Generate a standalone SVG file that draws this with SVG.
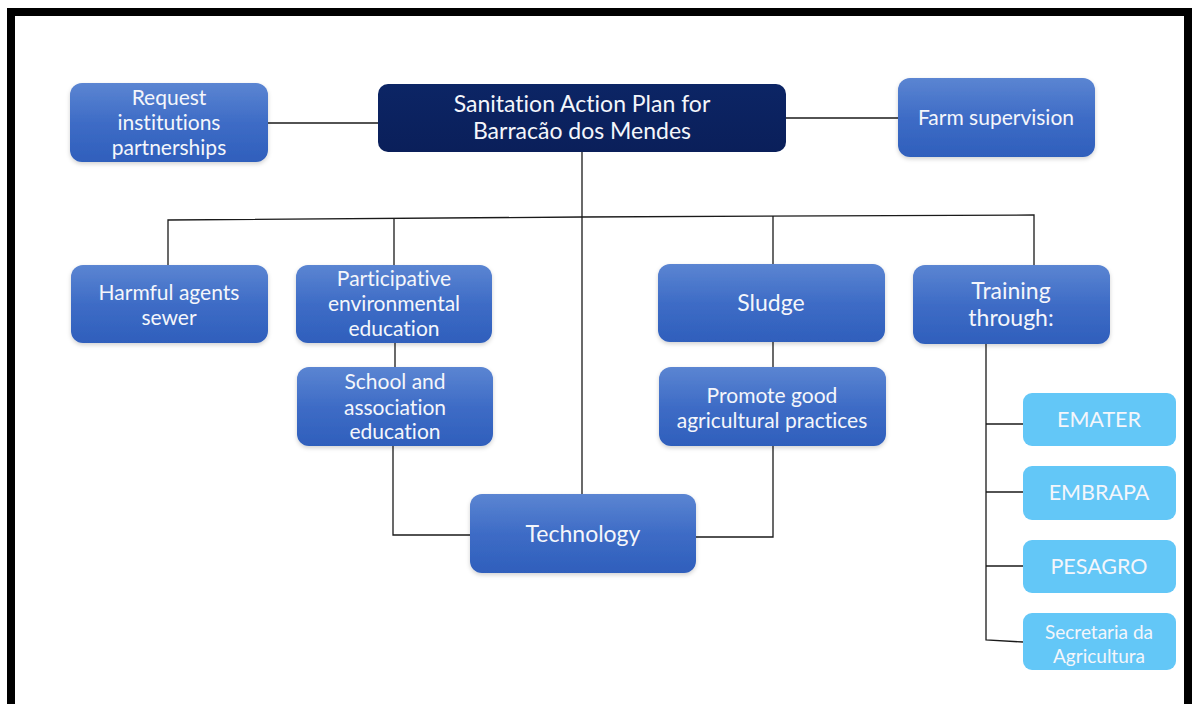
<svg xmlns="http://www.w3.org/2000/svg" width="1192" height="704" viewBox="0 0 1192 704">
<defs>
<linearGradient id="gBlue" x1="0" y1="0" x2="0" y2="1">
<stop offset="0" stop-color="#5B85D2"/>
<stop offset="0.5" stop-color="#3E6CC6"/>
<stop offset="1" stop-color="#2F5FBC"/>
</linearGradient>
<linearGradient id="gNavy" x1="0" y1="0" x2="0" y2="1">
<stop offset="0" stop-color="#0C2565"/>
<stop offset="1" stop-color="#0A1F5A"/>
</linearGradient>
<filter id="sh" x="-10%" y="-10%" width="120%" height="130%">
<feDropShadow dx="0" dy="2" stdDeviation="2" flood-color="#000" flood-opacity="0.18"/>
</filter>
</defs>
<style>
.b{fill:url(#gBlue);filter:url(#sh)}
.n{fill:url(#gNavy)}
.l{fill:#63C7F7}
.t{font-family:Lato,"Open Sans","Liberation Sans",sans-serif;fill:#F4F6FB;text-anchor:middle;font-size:21px;font-variant-ligatures:none}
.big{font-size:23px}
.mid{font-size:21.5px}
.sm{font-size:19px}
.c{fill:none;stroke:#1a1a1a;stroke-width:1.3}
</style>
<rect x="0" y="0" width="1192" height="704" fill="#fff"/>
<path d="M11,712 V12 H1188 V712" fill="none" stroke="#000" stroke-width="8"/>

<g id="connectors">
<line class="c" x1="268" y1="123" x2="378" y2="123"/>
<line class="c" x1="786" y1="118" x2="898" y2="118"/>
<line class="c" x1="582" y1="152" x2="582" y2="494"/>
<polyline class="c" points="168,265 168,220 582,217 1034,215 1034,265"/>
<line class="c" x1="394" y1="219" x2="394" y2="265"/>
<line class="c" x1="773" y1="216" x2="773" y2="264"/>
<line class="c" x1="395" y1="343" x2="395" y2="367"/>
<polyline class="c" points="393,446 393,535 470,535"/>
<line class="c" x1="773" y1="342" x2="773" y2="367"/>
<polyline class="c" points="773,446 773,537 696,537"/>
<polyline class="c" points="986,344 986,640 1023,642"/>
<line class="c" x1="986" y1="424" x2="1023" y2="424"/>
<line class="c" x1="986" y1="492" x2="1023" y2="492"/>
<line class="c" x1="986" y1="566" x2="1023" y2="566"/>
</g>

<g id="request">
<rect class="b" x="70" y="83" width="198" height="79" rx="12"/>
<text class="t" x="169" y="105">Request</text>
<text class="t" x="169" y="130">institutions</text>
<text class="t" x="169" y="155">partnerships</text>
</g>
<g id="main">
<rect class="n" x="378" y="84" width="408" height="68" rx="10"/>
<text class="t big" x="582" y="112">Sanitation Action Plan for</text>
<text class="t big" x="582" y="139">Barracão dos Mendes</text>
</g>
<g id="farm">
<rect class="b" x="898" y="78" width="197" height="79" rx="12"/>
<text class="t" x="996" y="125">Farm supervision</text>
</g>
<g id="harmful">
<rect class="b" x="71" y="265" width="197" height="78" rx="12"/>
<text class="t" x="169" y="300">Harmful agents</text>
<text class="t" x="169" y="325">sewer</text>
</g>
<g id="participative">
<rect class="b" x="296" y="265" width="196" height="78" rx="12"/>
<text class="t" x="394" y="286">Participative</text>
<text class="t" x="394" y="311">environmental</text>
<text class="t" x="394" y="336">education</text>
</g>
<g id="school">
<rect class="b" x="297" y="367" width="196" height="79" rx="12"/>
<text class="t" x="395" y="389">School and</text>
<text class="t" x="395" y="415">association</text>
<text class="t" x="395" y="439">education</text>
</g>
<g id="technology">
<rect class="b" x="470" y="494" width="226" height="79" rx="12"/>
<text class="t big" x="583" y="542">Technology</text>
</g>
<g id="sludge">
<rect class="b" x="658" y="264" width="227" height="78" rx="12"/>
<text class="t big" x="771" y="311">Sludge</text>
</g>
<g id="promote">
<rect class="b" x="659" y="367" width="227" height="79" rx="12"/>
<text class="t" x="772" y="403">Promote good</text>
<text class="t" x="772" y="428">agricultural practices</text>
</g>
<g id="training">
<rect class="b" x="913" y="265" width="197" height="79" rx="12"/>
<text class="t big" x="1011" y="299">Training</text>
<text class="t big" x="1011" y="326">through:</text>
</g>
<g id="emater">
<rect class="l" x="1023" y="393" width="153" height="53" rx="9"/>
<text class="t mid" x="1099" y="427">EMATER</text>
</g>
<g id="embrapa">
<rect class="l" x="1023" y="466" width="153" height="54" rx="9"/>
<text class="t mid" x="1099" y="500">EMBRAPA</text>
</g>
<g id="pesagro">
<rect class="l" x="1023" y="540" width="153" height="53" rx="9"/>
<text class="t mid" x="1099" y="574">PESAGRO</text>
</g>
<g id="secretaria">
<rect class="l" x="1023" y="613" width="153" height="57" rx="9"/>
<text class="t sm" x="1099" y="639">Secretaria da</text>
<text class="t sm" x="1099" y="663">Agricultura</text>
</g>
</svg>
